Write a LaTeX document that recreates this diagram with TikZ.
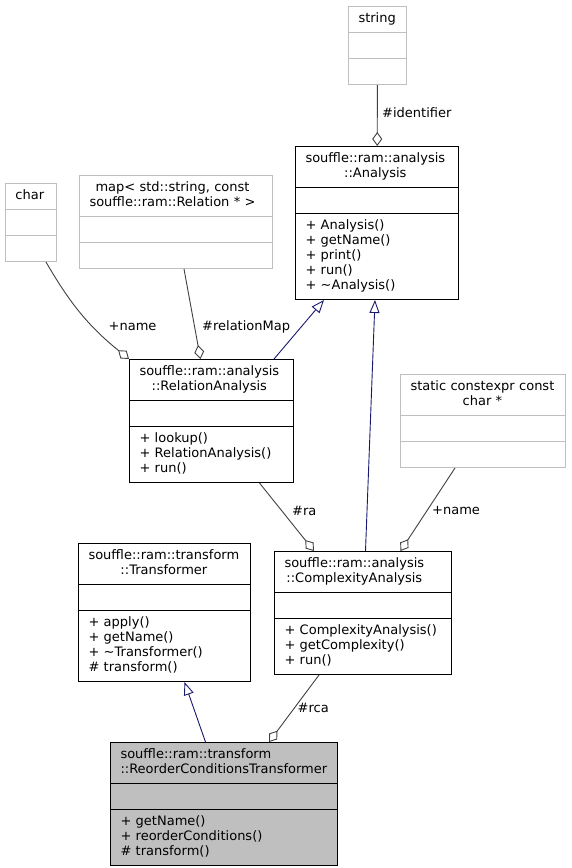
\documentclass[tikz,border=0pt]{standalone}
\usepackage{fontspec}
\setmainfont{DejaVu Sans}
\usetikzlibrary{shapes.multipart,arrows.meta}
\definecolor{grey75}{HTML}{BFBFBF}
\definecolor{grey25}{HTML}{404040}
\definecolor{midnightblue}{HTML}{191970}

\begin{document}
\begin{tikzpicture}[x=1pt, y=-1pt, font=\fontsize{13}{15}\selectfont,
    cls/.style={rectangle split, rectangle split parts=3, draw=black, fill=white, line width=1pt,
        inner xsep=10pt, inner ysep=5pt, anchor=north west},
    ext/.style={cls, draw=grey75},
    focus/.style={cls, fill=grey75},
    aggr/.style={draw=grey25, line width=0.9pt, -{Diamond[open, length=14pt, width=10pt]}},
    inherit/.style={draw=midnightblue, line width=0.9pt, -{Triangle[open, length=13pt, width=10pt]}},
    lbl/.style={anchor=west, inner sep=1pt}]
    \useasboundingbox (0, 0) rectangle (571, 868);

    \node[ext, text width=38pt] (string) at (348, 6)
        {\centering\strut string\nodepart{two}\strut\nodepart{three}\strut};
    \node[cls, text width=143pt] (analysis) at (295, 146)
        {\centering\begin{tabular}{@{}c@{}}souffle::ram::analysis\\::Analysis\end{tabular}
        \nodepart{two}\strut
        \nodepart{three}\raggedright\strut + Analysis()\\+ getName()\\+ print()\\+ run()\\+ \textasciitilde Analysis()\strut};
    \node[ext, text width=31pt] (char) at (5, 183)
        {\centering\strut char\nodepart{two}\strut\nodepart{three}\strut};
    \node[ext, text width=173pt] (map) at (79, 175)
        {\centering\begin{tabular}{@{}c@{}}map< std::string, const\\souffle::ram::Relation * >\end{tabular}
        \nodepart{two}\strut\nodepart{three}\strut};
    \node[cls, text width=144pt] (rel) at (129, 359)
        {\centering\begin{tabular}{@{}c@{}}souffle::ram::analysis\\::RelationAnalysis\end{tabular}
        \nodepart{two}\strut
        \nodepart{three}\raggedright\strut + lookup()\\+ RelationAnalysis()\\+ run()\strut};
    \node[ext, text width=145pt] (static) at (400, 374)
        {\centering\begin{tabular}{@{}c@{}}static constexpr const\\char *\end{tabular}
        \nodepart{two}\strut\nodepart{three}\strut};
    \node[cls, text width=152pt] (trans) at (78, 543)
        {\centering\begin{tabular}{@{}c@{}}souffle::ram::transform\\::Transformer\end{tabular}
        \nodepart{two}\strut
        \nodepart{three}\raggedright\strut + apply()\\+ getName()\\+ \textasciitilde Transformer()\\\# transform()\strut};
    \node[cls, text width=157pt] (cplx) at (274, 551)
        {\centering\begin{tabular}{@{}c@{}}souffle::ram::analysis\\::ComplexityAnalysis\end{tabular}
        \nodepart{two}\strut
        \nodepart{three}\raggedright\strut + ComplexityAnalysis()\\+ getComplexity()\\+ run()\strut};
    \node[focus, text width=207pt] (reorder) at (110, 742)
        {\raggedright\strut souffle::ram::transform\\::ReorderConditionsTransformer\strut
        \nodepart{two}\strut
        \nodepart{three}\raggedright\strut + getName()\\+ reorderConditions()\\\# transform()\strut};

    \draw[aggr] (string) -- (analysis);
    \draw[aggr] ([xshift=15pt]char.south) to[out=-60, in=141] (rel.north west);
    \draw[aggr] ([xshift=8pt]map.south) -- ([xshift=-11pt]rel.north);
    \draw[inherit] ([xshift=-20pt]rel.north east) -- ([xshift=-53pt]analysis.south);
    \draw[inherit] ([xshift=2.5pt]cplx.north) -- ([xshift=-2pt]analysis.south);
    \draw[aggr] ([xshift=48pt]rel.south) -- ([xshift=-49pt]cplx.north);
    \draw[aggr] ([xshift=-28pt]static.south) -- ([xshift=37.5pt]cplx.north);
    \draw[inherit] ([xshift=-18.5pt]reorder.north) -- ([xshift=20pt]trans.south);
    \draw[aggr] ([xshift=-44pt]cplx.south) -- ([xshift=45pt]reorder.north);

    \node[lbl] (identLbl) at (381, 113) {\#identifier};
    \node[lbl] (charLbl) at (107.5, 327) {+name};
    \node[lbl] (mapLbl) at (201, 327) {\#relationMap};
    \node[lbl] (raLbl) at (291, 511) {\#ra};
    \node[lbl] (staticLbl) at (431, 511) {+name};
    \node[lbl] (rcaLbl) at (296.5, 708) {\#rca};
\end{tikzpicture}
\end{document}
